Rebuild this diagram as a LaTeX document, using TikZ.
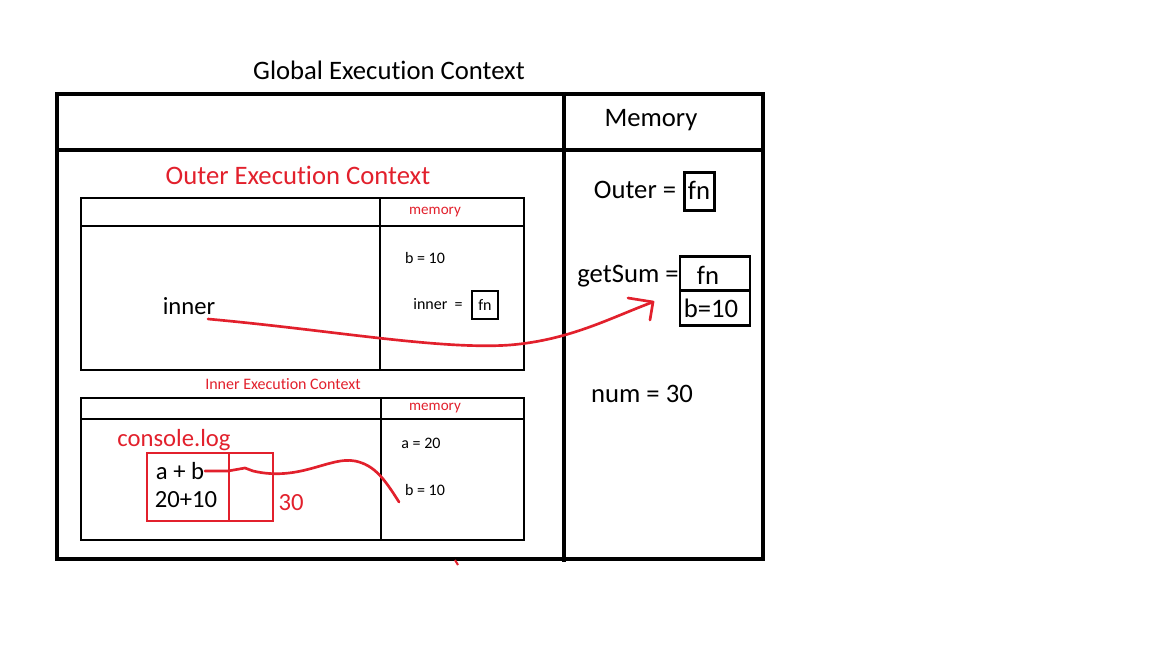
\documentclass[tikz,border=0pt]{standalone}
\usepackage{fontspec}
\setmainfont{Carlito}[Ligatures=NoCommon]
\usetikzlibrary{arrows.meta}
\definecolor{myred}{RGB}{226,32,44}
\begin{document}
\begin{tikzpicture}[x=0.75pt,y=-0.75pt,
  heavy/.style={line width=3.7pt},
  mid/.style={line width=2.2pt},
  thinbox/.style={draw,line width=2.2pt,inner sep=0pt},
  redbox/.style={draw=myred,line width=2.2pt},
  big/.style={inner sep=0pt,font=\fontsize{20}{22}\selectfont},
  med/.style={inner sep=0pt,font=\fontsize{18.5}{20}\selectfont},
  small/.style={inner sep=0pt,font=\fontsize{12}{14}\selectfont},
  tiny/.style={inner sep=0pt,font=\fontsize{11.3}{13}\selectfont},
  redline/.style={draw=myred,line width=2pt,line cap=round,line join=round}]
\useasboundingbox[fill=white] (0,0) rectangle (1152,648);

% Global execution context
\node[big] (gtitle) at (389,70) {Global Execution Context};
\draw[heavy] (57,94) rectangle (763,559);
\draw[heavy] (564,92) -- (564,562);
\draw[heavy] (57,150) -- (765,150);
\node[big] (memtitle) at (651,120) {Memory};

% Outer execution context
\node[big,text=myred] (otitle) at (298,175) {Outer Execution Context};
\draw[mid] (81,198) rectangle (524,370);
\draw[mid] (81,226) -- (524,226);
\draw[mid] (380,198) -- (380,370);
\node[tiny,text=myred] (omem) at (435,212) {memory};
\node[small] (ob) at (425,258) {b = 10};
\node[small] (oinner) at (438,304) {inner\ \ =};
\node[thinbox,minimum width=19.5pt,minimum height=21pt,small] (ofn) at (485,305) {fn};
\node[med] (innerlbl) at (189,306) {inner};

% Inner execution context
\node[small,text=myred] (ititle) at (283,384) {Inner Execution Context};
\draw[mid] (81,398) rectangle (524,540);
\draw[mid] (81,419) -- (524,419);
\draw[mid] (381,398) -- (381,540);
\node[tiny,text=myred] (imem) at (435,408) {memory};
\node[small] (ia) at (421,443) {a = 20};
\node[small] (ib) at (425,490) {b = 10};
\node[med,text=myred] (clog) at (174,440) {console.log};
\draw[redbox] (147,453) rectangle (273,521);
\draw[redbox] (229,453) -- (229,521);
\node[med] (apb) at (180,471) {a + b};
\node[med] (sum) at (186,500) {20+10};
\node[med,text=myred] (thirty) at (291,503) {30};
\coordinate (cs) at (205,471);
\coordinate (ce) at (399,502);
\draw[redline] (cs) -- (228,471) -- (245,468) -- (253,471)
  .. controls (300,482) and (330,456) .. (355,461)
  .. controls (375,465) and (385,480) .. (ce);

% Right memory panel
\node[big] (outer) at (635,190) {Outer =};
\node[thinbox,minimum width=23pt,minimum height=29pt] (outerfn) at (699.5,191.5) {};
\node[big] (outerfntxt) at (699,190) {fn};
\node[big] (getsum) at (628,276) {getSum =};
\node[thinbox,minimum width=52.5pt,minimum height=26pt] (gsfn) at (715,273.5) {};
\node[thinbox,minimum width=52.5pt,minimum height=26pt] (gsb) at (715,308) {};
\node[big] (gsfntxt) at (708,275) {fn};
\node[big] (gsbtxt) at (711,308) {b=10};
\node[big] (num) at (642,394) {num = 30};

% red arrow from inner to getSum
\coordinate (as) at (208,319);
\coordinate (ae) at (653,302);
\draw[redline] (as) .. controls (330,330) and (440,350) .. (510,345)
  .. controls (570,340) and (610,318) .. (ae);
\draw[redline] (628,298) -- (ae) -- (650,320);

% stray mark
\coordinate (m1) at (455,560);
\coordinate (m2) at (458,565);
\draw[draw=myred,line width=1.5pt] (m1) -- (m2);
\end{tikzpicture}
\end{document}
